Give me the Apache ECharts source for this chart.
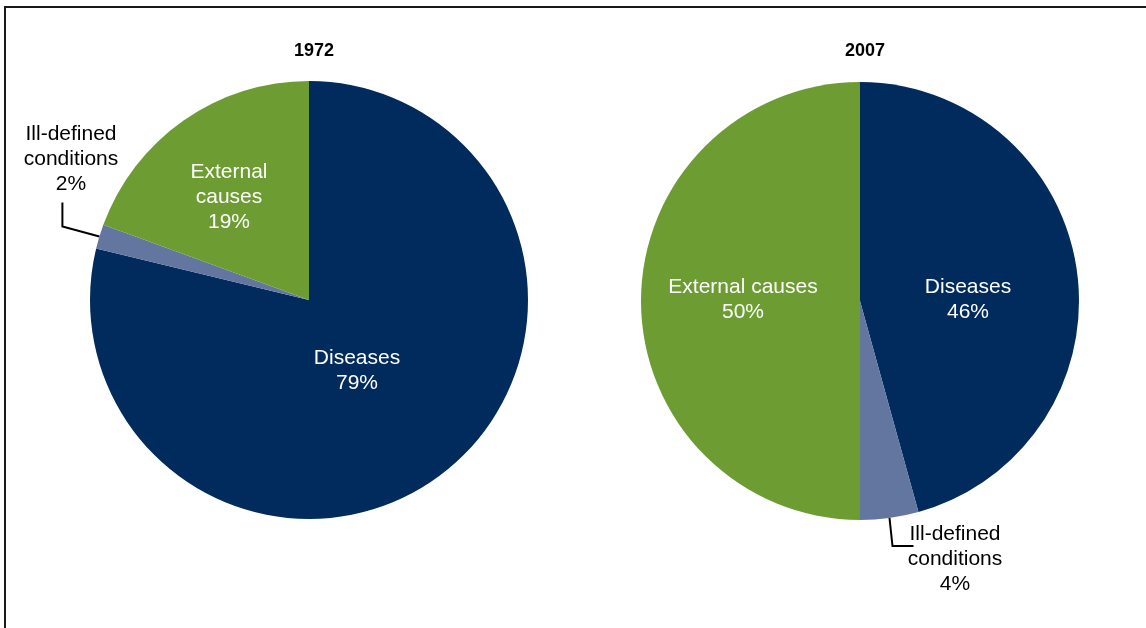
<!DOCTYPE html>
<html>
<head>
<meta charset="utf-8">
<script src="https://cdn.jsdelivr.net/npm/echarts@6/dist/echarts.min.js"></script>
<style>
html,body{margin:0;padding:0;background:#fff;}
#c{width:1146px;height:628px;}
</style>
</head>
<body>
<div id="c"></div>
<script>
var years = ['1972', '2007'];
var categories = ['Diseases', 'Ill-defined conditions', 'External causes'];
var labelNames = ['Diseases', 'Ill-defined\nconditions', 'External\ncauses'];
var labelNames2007 = ['Diseases', 'Ill-defined\nconditions', 'External causes'];
var values1972 = [78.7, 1.8, 19.4];
var values2007 = [45.7, 4.3, 50.0];

var colors = ['#002B5C', '#62769F', '#6D9D32'];
var FONT = '"Liberation Sans", Arial, sans-serif';

// label anchor positions (style), per pie
var labelPos = [
  [[357, 371], [71, 159], [229, 197]],
  [[968, 300], [955, 559], [743, 300]]
];

function buildData(vals, names) {
  return vals.map(function (v, i) {
    var isOut = i === 1;
    return {
      name: categories[i],
      value: v,
      itemStyle: { color: colors[i] },
      label: {
        show: true,
        position: isOut ? 'outside' : 'inside',
        color: isOut ? '#000' : '#fff',
        overflow: 'none',
        formatter: names[i] + '\n' + Math.round(v) + '%'
      },
      labelLine: { show: isOut }
    };
  });
}

var chart = echarts.init(document.getElementById('c'), null, { renderer: 'canvas' });

function pieSeries(idx, vals, names, center) {
  return {
    type: 'pie',
    center: center,
    radius: 219,
    startAngle: 90,
    clockwise: true,
    animation: false,
    silent: true,
    avoidLabelOverlap: false,
    label: {
      fontFamily: FONT,
      fontSize: 21,
      lineHeight: 25,
      align: 'center',
      overflow: 'none'
    },
    labelLine: {
      lineStyle: { color: '#000', width: 2 },
      smooth: false
    },
    itemStyle: { borderWidth: 0 },
    emphasis: { disabled: true },
    labelLayout: function (p) {
      var pos = labelPos[idx][p.dataIndex];
      var res = { x: pos[0], y: pos[1], align: 'center', verticalAlign: 'middle' };
      if (p.dataIndex === 1 && p.labelLinePoints) {
        var p0 = p.labelLinePoints[0];
        if (idx === 0) {
          res.labelLinePoints = [[p0[0], p0[1]], [p0[0] - 37, p0[1] - 10], [p0[0] - 37, p0[1] - 34]];
        } else {
          res.labelLinePoints = [[p0[0], p0[1]], [p0[0] + 3, p0[1] + 28], [p0[0] + 24, p0[1] + 28]];
        }
      }
      return res;
    },
    data: buildData(vals, names)
  };
}

chart.setOption({
  backgroundColor: '#fff',
  animation: false,
  title: [
    { text: years[0], left: 309, top: 37, textAlign: 'center',
      textStyle: { fontFamily: FONT, fontSize: 18, fontWeight: 'bold', color: '#000' } },
    { text: years[1], left: 860, top: 37, textAlign: 'center',
      textStyle: { fontFamily: FONT, fontSize: 18, fontWeight: 'bold', color: '#000' } }
  ],
  graphic: [
    { type: 'polyline', shape: { points: [[5, 628], [5, 7], [1146, 7]] },
      style: { stroke: '#1a1a1a', lineWidth: 2, fill: null }, silent: true }
  ],
  series: [
    pieSeries(0, values1972, labelNames, [309, 300]),
    pieSeries(1, values2007, labelNames2007, [860, 301])
  ]
});
</script>
</body>
</html>
